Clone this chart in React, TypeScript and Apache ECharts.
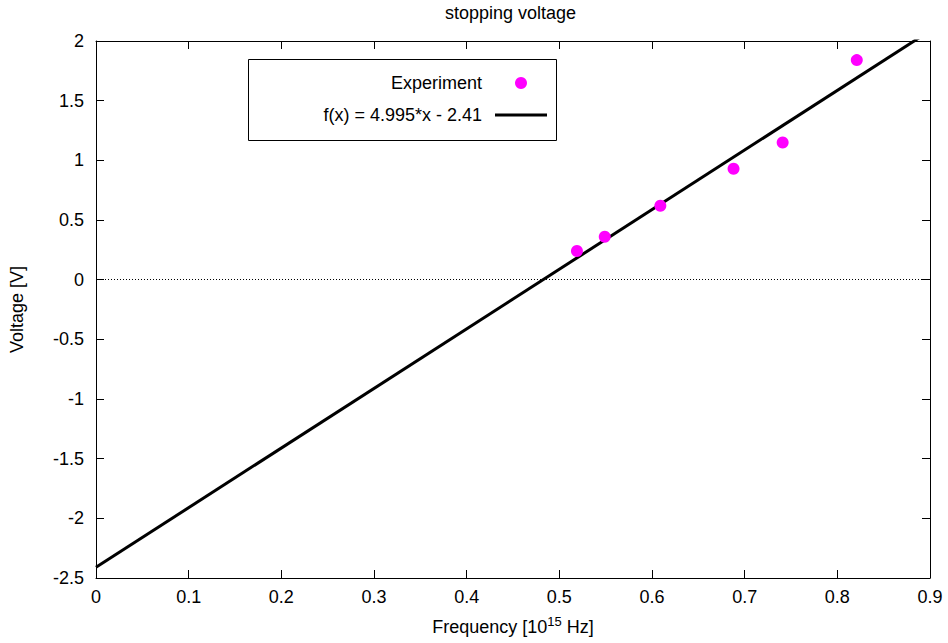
import React, { useEffect, useRef } from "react";
import * as echarts from "echarts";

// Measured data (frequency in 10^15 Hz, stopping voltage in V)
const frequencies = [0.519, 0.549, 0.609, 0.688, 0.741, 0.821];
const voltages = [0.24, 0.36, 0.62, 0.93, 1.15, 1.84];

// Fit line f(x) = slope * x + intercept
const fitSlope = 4.995;
const fitIntercept = -2.41;
const fitX = [0, 0.9];

const xTicks = { min: 0, max: 0.9, interval: 0.1 };
const yTicks = { min: -2.5, max: 2, interval: 0.5 };

const expName = "Experiment";
const fitName = "f(x) = 4.995*x - 2.41";

const FONT = "Liberation Sans, Arial, Helvetica, sans-serif";
const FS = 18;

export default function App() {
  const ref = useRef<HTMLDivElement>(null);
  useEffect(() => {
    document.body.style.margin = "0";
    const chart = echarts.init(ref.current!, null, { renderer: "svg" });
    const axisLine = { show: true, onZero: false, lineStyle: { color: "#000", width: 1 } };
    const axisTick = { show: true, inside: true, length: 8, lineStyle: { color: "#000", width: 1 } };
    chart.setOption({
      animation: false,
      backgroundColor: "#fff",
      textStyle: { fontFamily: FONT, color: "#000" },
      title: {
        text: "stopping voltage",
        left: 445,
        top: 0,
        padding: [4, 0, 0, 0],
        textStyle: { fontFamily: FONT, fontSize: FS, fontWeight: "normal", color: "#000" },
      },
      grid: { left: 96, right: 18, top: 41, bottom: 65, containLabel: false, outerBoundsMode: "none" },
      legend: [
        {
          data: [expName],
          orient: "vertical",
          align: "right",
          right: 421,
          top: 74,
          padding: 0,
          itemWidth: 52,
          itemHeight: 12,
          textStyle: { fontFamily: FONT, fontSize: FS, color: "#000", padding: [0, 8, 0, 0] },
        },
        {
          data: [{ name: fitName, icon: "rect" }],
          orient: "vertical",
          align: "right",
          right: 401,
          top: 106,
          padding: 0,
          itemWidth: 52,
          itemHeight: 3,
          textStyle: { fontFamily: FONT, fontSize: FS, color: "#000", padding: [0, 8, 0, 0] },
        },
      ],
      graphic: [
        {
          type: "rect",
          shape: { x: 248.5, y: 59.5, width: 308, height: 81 },
          style: { fill: "none", stroke: "#000", lineWidth: 1 },
          z: 1,
        },
      ],
      xAxis: [
        {
          type: "value",
          position: "bottom",
          min: xTicks.min,
          max: xTicks.max,
          interval: xTicks.interval,
          axisLine,
          axisTick,
          splitLine: { show: false },
          axisLabel: { fontFamily: FONT, fontSize: FS, color: "#000", margin: 10 },
          name: "{a|Frequency [10}{s|15}{a| Hz]}",
          nameLocation: "middle",
          nameGap: 38,
          nameTextStyle: {
            rich: {
              a: { fontFamily: FONT, fontSize: FS, color: "#000", verticalAlign: "bottom", lineHeight: 20 },
              s: { fontFamily: FONT, fontSize: 13, color: "#000", verticalAlign: "bottom", lineHeight: 20, padding: [0, 0, 8, 0] },
            },
          },
        },
        {
          type: "value",
          position: "top",
          min: xTicks.min,
          max: xTicks.max,
          interval: xTicks.interval,
          axisLine,
          axisTick,
          splitLine: { show: false },
          axisLabel: { show: false },
        },
      ],
      yAxis: [
        {
          type: "value",
          position: "left",
          min: yTicks.min,
          max: yTicks.max,
          interval: yTicks.interval,
          axisLine,
          axisTick,
          splitLine: { show: false },
          axisLabel: { fontFamily: FONT, fontSize: FS, color: "#000", margin: 12 },
          name: "Voltage [V]",
          nameLocation: "middle",
          nameGap: 70,
          nameTextStyle: { fontFamily: FONT, fontSize: FS, color: "#000" },
        },
        {
          type: "value",
          position: "right",
          min: yTicks.min,
          max: yTicks.max,
          interval: yTicks.interval,
          axisLine,
          axisTick,
          splitLine: { show: false },
          axisLabel: { show: false },
        },
      ],
      series: [
        {
          name: fitName,
          type: "line",
          xAxisIndex: 0,
          yAxisIndex: 0,
          symbol: "none",
          clip: true,
          lineStyle: { color: "#000", width: 3 },
          itemStyle: { color: "#000" },
          data: fitX.map((x) => [x, fitSlope * x + fitIntercept]),
          markLine: {
            silent: true,
            symbol: "none",
            label: { show: false },
            lineStyle: { color: "#000", width: 1, type: [1, 2] },
            data: [{ yAxis: 0 }],
            z: 1,
          },
          z: 3,
        },
        {
          name: expName,
          type: "scatter",
          xAxisIndex: 0,
          yAxisIndex: 0,
          symbol: "circle",
          symbolSize: 12,
          itemStyle: { color: "#ff00ff", opacity: 1 },
          data: frequencies.map((f, i) => [f, voltages[i]]),
          z: 4,
        },
      ],
    });
    return () => chart.dispose();
  }, []);
  return <div ref={ref} style={{ width: 948, height: 643 }} />;
}
